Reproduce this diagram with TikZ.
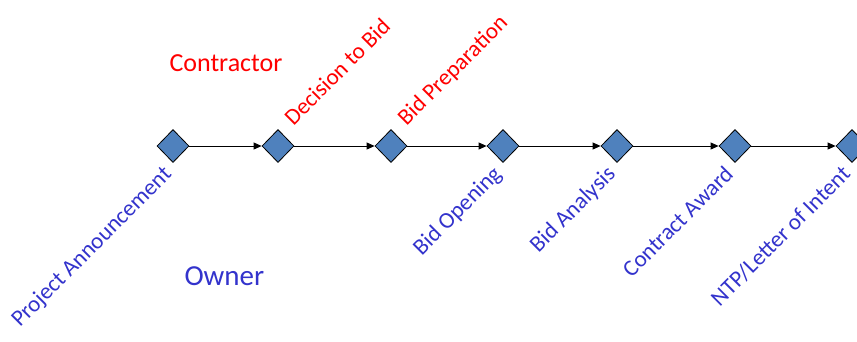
\documentclass[tikz,border=0pt]{standalone}
\usepackage{fontspec}
\setmainfont{Carlito}
\definecolor{DiamondBlue}{RGB}{79, 129, 189}
\definecolor{OwnerBlue}{RGB}{51, 51, 204}
\usetikzlibrary{arrows.meta, positioning, shapes.geometric}

\begin{document}
\begin{tikzpicture}[
    x=1pt, y=-1pt,
    every node/.style={font=\fontsize{23}{27}\selectfont},
    milestone/.style={diamond, draw=black, fill=DiamondBlue, line width=0.8pt,
                      inner sep=0pt, minimum width=32pt, minimum height=33pt},
    link/.style={-{Triangle[length=8pt, width=7pt]}, line width=0.8pt},
    party/.style={anchor=base west},
    owner/.style={text=OwnerBlue, rotate=45, anchor=base east},
    contractor/.style={text=red, rotate=45, anchor=base west}
]
\clip (0,0) rectangle (857,341);
% milestones along the time line
\node[milestone] (m1) at (173,146) {};
\node[milestone] (m2) at (278,146) {};
\node[milestone] (m3) at (391,146) {};
\node[milestone] (m4) at (503,146) {};
\node[milestone] (m5) at (617,146) {};
\node[milestone] (m6) at (735,146) {};
\node[milestone] (m7) at (852,146) {};
\draw[link] (m1.east) -- (m2.west);
\draw[link] (m2.east) -- (m3.west);
\draw[link] (m3.east) -- (m4.west);
\draw[link] (m4.east) -- (m5.west);
\draw[link] (m5.east) -- (m6.west);
\draw[link] (m6.east) -- (m7.west);
% parties
\node[party, text=red, font=\fontsize{26}{30}\selectfont] (contr) at (166,71) {Contractor};
\node[party, text=OwnerBlue, font=\fontsize{29}{34}\selectfont] (own) at (181,285) {Owner};
% contractor steps
\node[contractor] (c2) at ([shift={(13,-17)}]m2.center) {Decision to Bid};
\node[contractor] (c3) at ([shift={(13,-17)}]m3.center) {Bid Preparation};
% owner steps
\node[owner] (o1) at ([shift={(2,27)}]m1.center) {Project Announcement};
\node[owner] (o4) at ([shift={(2,27)}]m4.center) {Bid Opening};
\node[owner] (o5) at ([shift={(2,27)}]m5.center) {Bid Analysis};
\node[owner] (o6) at ([shift={(2,27)}]m6.center) {Contract Award};
\node[owner] (o7) at ([shift={(2,27)}]m7.center) {NTP/Letter of Intent};
\end{tikzpicture}
\end{document}
